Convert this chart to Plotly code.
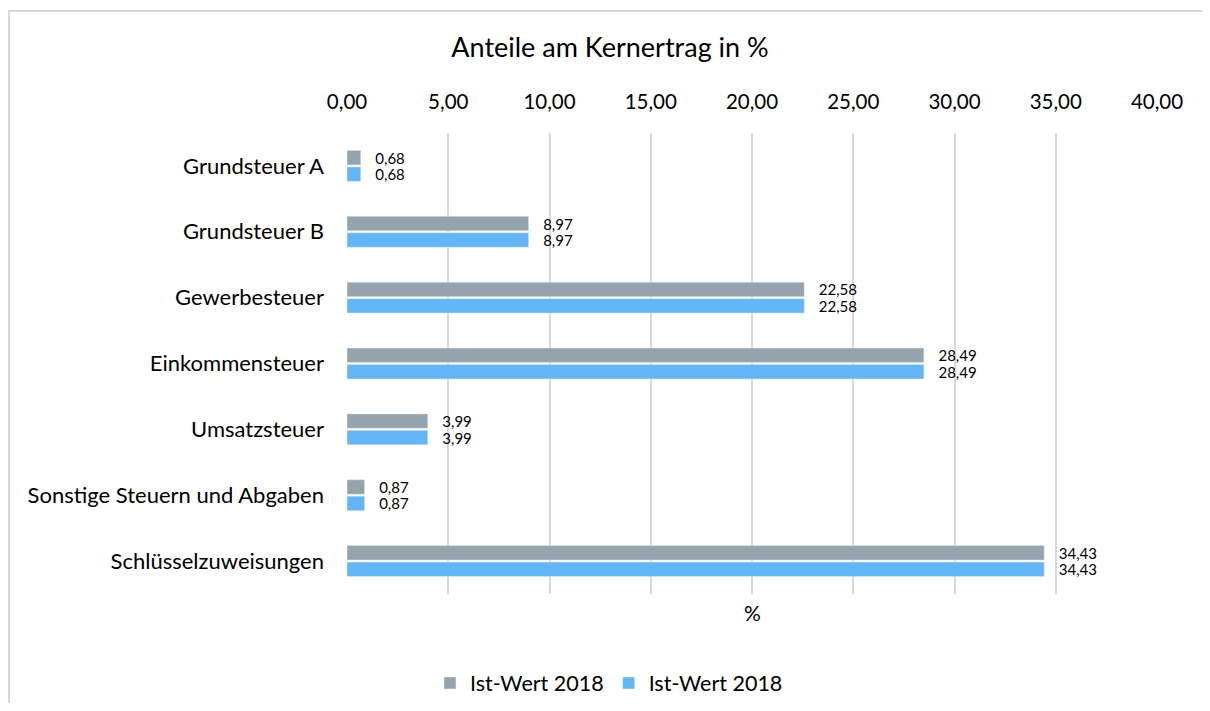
import plotly.graph_objects as go

categories = ["Grundsteuer A", "Grundsteuer B", "Gewerbesteuer", "Einkommensteuer",
              "Umsatzsteuer", "Sonstige Steuern und Abgaben", "Schlüsselzuweisungen"]
series1_name = "Ist-Wert 2018"
series1 = [0.68, 8.97, 22.58, 28.49, 3.99, 0.87, 34.43]
series2_name = "Ist-Wert 2018"
series2 = [0.68, 8.97, 22.58, 28.49, 3.99, 0.87, 34.43]
tick_vals = [0, 5, 10, 15, 20, 25, 30, 35, 40]

def fmt(v):
    return "\u00a0\u00a0\u00a0" + f"{v:.2f}".replace(".", ",")

FONT = "Lato, Carlito, 'Liberation Sans', sans-serif"

W, H = 1194, 695
L, T = 339, 125
PW, PH = 810, 461
R = W - L - PW
B = H - T - PH

fig = go.Figure()
for name, vals, col in [(series1_name, series1, "#94A3AC"), (series2_name, series2, "#64B5F6")]:
    fig.add_trace(go.Bar(y=categories, x=vals, name=name, orientation="h",
                         marker=dict(color=col), text=[fmt(v) for v in vals],
                         textposition="outside", constraintext="none",
                         textfont=dict(size=15, color="#000000"),
                         cliponaxis=False))

fig.update_layout(
    width=W, height=H,
    paper_bgcolor="white", plot_bgcolor="white",
    font=dict(family=FONT, color="#000000"),
    separators=",.",
    barmode="group", bargap=0.5, bargroupgap=0.12,
    margin=dict(l=L, r=R, t=T, b=B),
    title=dict(text="Anteile am Kernertrag in %", x=(610 - 8) / W, xref="container",
               y=1 - 40 / H, yref="container", yanchor="middle", xanchor="center",
               font=dict(size=27, color="#000000", family=FONT)),
    xaxis=dict(side="top", range=[0, 40], tickvals=tick_vals, tickformat=".2f",
               showgrid=True, gridcolor="#D9D9D9", gridwidth=2, zeroline=False,
               showline=False, ticks="", tickfont=dict(size=20.5), ticklabelstandoff=19),
    yaxis=dict(autorange="reversed", showgrid=False, zeroline=False, showline=False,
               ticks="", tickfont=dict(size=22), ticklabelstandoff=22),
    legend=dict(orientation="h", x=(609 - 8) / W, xref="container", xanchor="center",
                y=1 - 675 / H, yref="container", yanchor="middle",
                font=dict(size=21.5), itemwidth=30, traceorder="normal"),
    showlegend=True,
)

fig.add_annotation(text="%", x=0.5, xref="paper", y=-18 / PH, yref="paper",
                   yanchor="middle", showarrow=False, font=dict(size=21))

# chart frame: only left and top edges fall inside the picture
fig.add_shape(type="line", xref="paper", yref="paper",
              x0=(1 - L) / PW, x1=(1 - L) / PW,
              y0=(T + PH - H - 30) / PH, y1=(T + PH - 2) / PH,
              line=dict(color="#D9D9D9", width=2), layer="below")
fig.add_shape(type="line", xref="paper", yref="paper",
              x0=(0 - L) / PW, x1=(W + 30 - L) / PW,
              y0=(T + PH - 3) / PH, y1=(T + PH - 3) / PH,
              line=dict(color="#D9D9D9", width=2), layer="below")

fig.write_html("out.html")
